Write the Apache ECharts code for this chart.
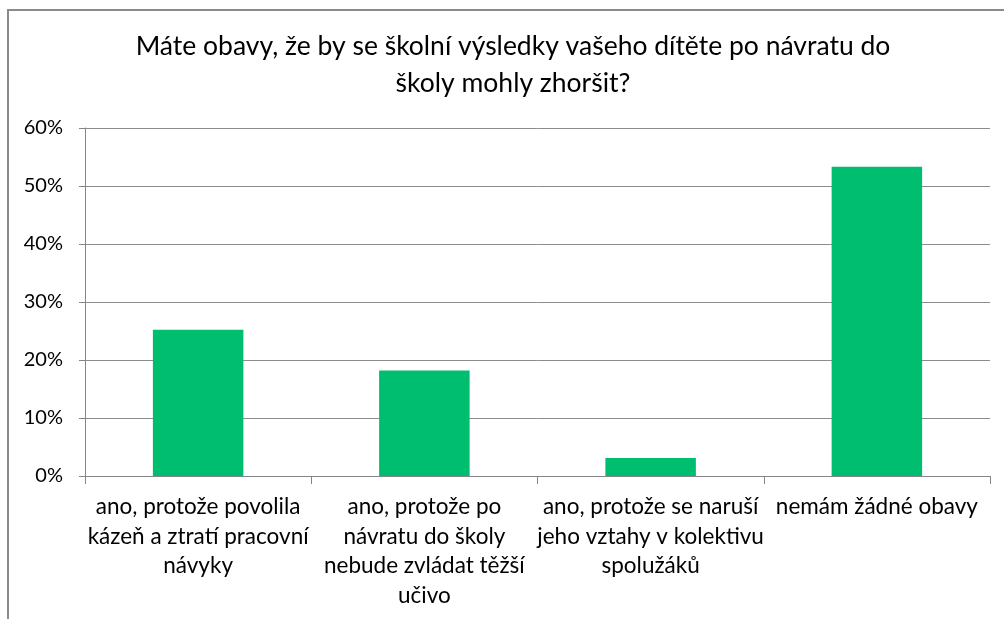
<!DOCTYPE html>
<html>
<head>
<meta charset="utf-8">
<script src="https://cdn.jsdelivr.net/npm/echarts@6/dist/echarts.min.js"></script>
<style>
html,body{margin:0;padding:0;background:#fff;}
#frame{position:absolute;left:7px;top:9px;width:997px;height:610px;border-left:2px solid #8a8a8a;border-top:2px solid #8a8a8a;box-sizing:border-box;}
#chart{position:absolute;left:0;top:0;width:1004px;height:619px;}
</style>
</head>
<body>
<div id="frame"></div>
<div id="chart"></div>
<script>
const titleText = "Máte obavy, že by se školní výsledky vašeho dítěte po návratu do\nškoly mohly zhoršit?";
const categories = [
  "ano, protože povolila\nkázeň a ztratí pracovní\nnávyky",
  "ano, protože po\nnávratu do školy\nnebude zvládat těžší\nučivo",
  "ano, protože se naruší\njeho vztahy v kolektivu\nspolužáků",
  "nemám žádné obavy"
];
const values = [25.2, 18.2, 3.1, 53.3];
const yTicks = [0, 10, 20, 30, 40, 50, 60];

const chart = echarts.init(document.getElementById('chart'), null, {renderer: 'canvas'});
const FONT = 'Lato, "Liberation Sans Narrow", sans-serif';
chart.setOption({
  animation: false,
  backgroundColor: 'transparent',
  title: {
    text: titleText,
    left: 508,
    textAlign: 'center',
    top: 23,
    textStyle: {fontFamily: FONT, fontWeight: 'normal', fontSize: 26.5, color: '#000', lineHeight: 37}
  },
  grid: {left: 85, right: 14, top: 128, bottom: 143, containLabel: false},
  xAxis: {
    type: 'category',
    data: categories,
    axisLine: {lineStyle: {color: '#868686', width: 1}},
    axisTick: {show: true, length: 8, lineStyle: {color: '#868686'}},
    axisLabel: {fontFamily: FONT, fontSize: 22.5, color: '#000', lineHeight: 29.5, margin: 16, interval: 0}
  },
  yAxis: {
    type: 'value',
    min: yTicks[0],
    max: yTicks[yTicks.length - 1],
    interval: 10,
    axisLine: {show: true, lineStyle: {color: '#868686', width: 1}},
    axisTick: {show: true, length: 6, lineStyle: {color: '#868686'}},
    splitLine: {lineStyle: {color: '#8c8c8c', width: 1}},
    axisLabel: {fontFamily: FONT, fontSize: 20, color: '#000', margin: 22, formatter: v => v + '%'}
  },
  series: [{
    type: 'bar',
    data: values,
    barWidth: '40%',
    itemStyle: {color: '#00BE6F'}
  }]
});
</script>
</body>
</html>
